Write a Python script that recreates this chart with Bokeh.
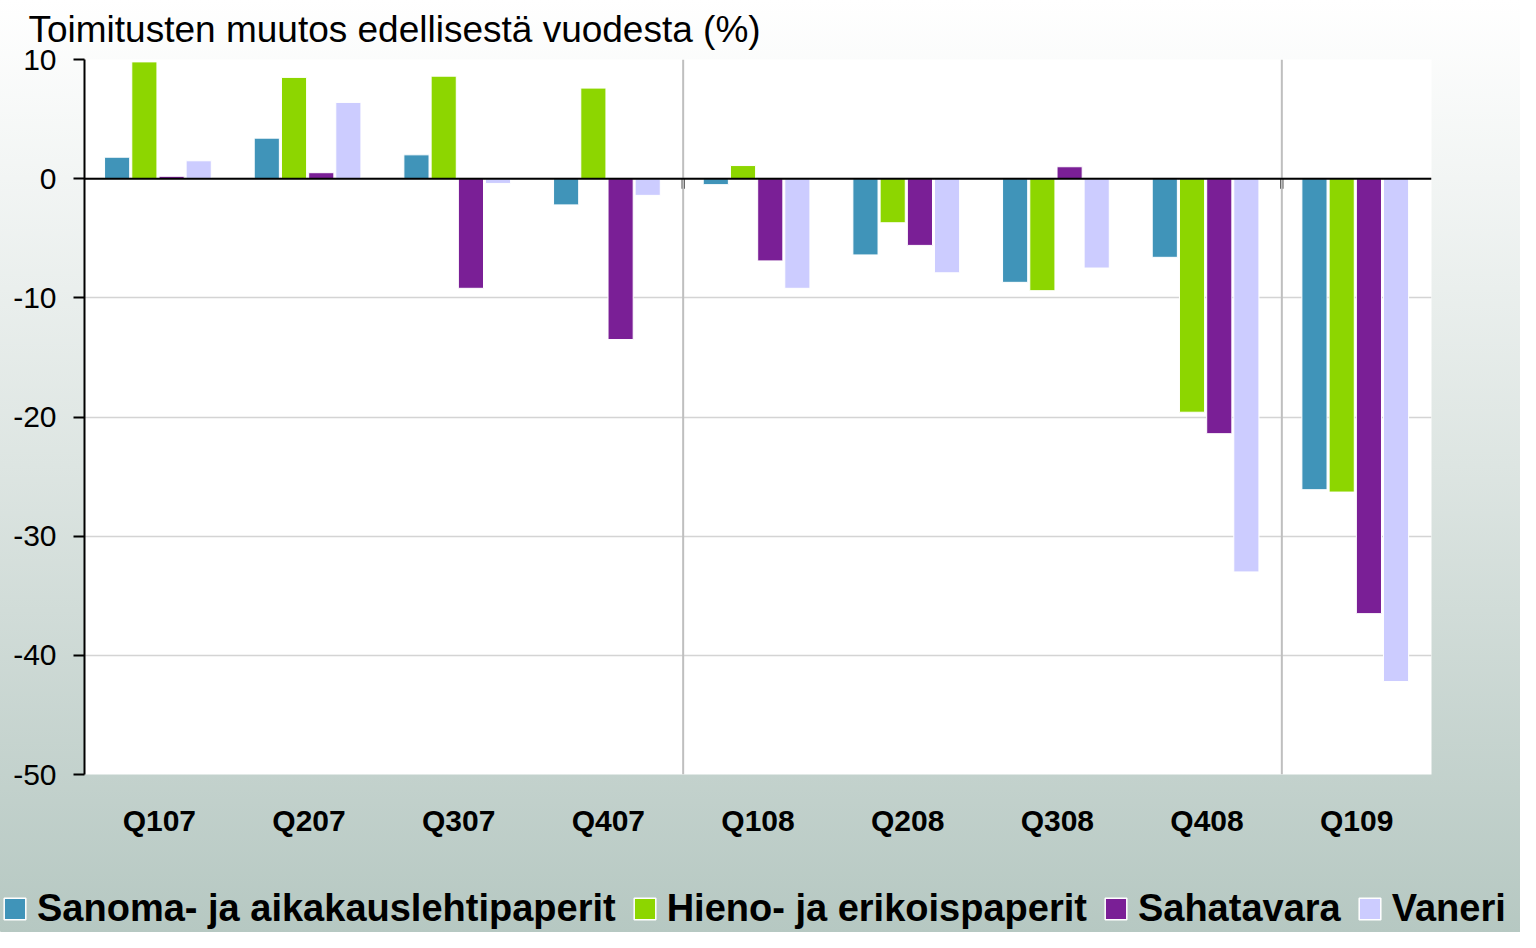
from bokeh.plotting import figure
from bokeh.layouts import column
from bokeh.models import (FactorRange, FixedTicker, Span, Legend, LegendItem,
                          InlineStyleSheet, ColumnDataSource, PrintfTickFormatter, Range1d)
from bokeh.transform import dodge
from bokeh.embed import file_html
from bokeh.resources import INLINE

quarters = ["Q107", "Q207", "Q307", "Q407", "Q108", "Q208", "Q308", "Q408", "Q109"]
sanoma = [1.8, 3.4, 2.0, -2.2, -0.5, -6.4, -8.7, -6.6, -26.1]
hieno = [9.8, 8.5, 8.6, 7.6, 1.1, -3.7, -9.4, -19.6, -26.3]
sahatavara = [0.2, 0.5, -9.2, -13.5, -6.9, -5.6, 1.0, -21.4, -36.5]
vaneri = [1.5, 6.4, -0.4, -1.4, -9.2, -7.9, -7.5, -33.0, -42.2]
series_names = ["Sanoma- ja aikakauslehtipaperit", "Hieno- ja erikoispaperit",
                "Sahatavara", "Vaneri"]
colors = ["#4094B9", "#8DD600", "#7A1F96", "#CCCCFF"]
y_ticks = [10, 0, -10, -20, -30, -40, -50]
year_breaks = [4, 8]

FONT = "Liberation Sans"
W, H_MAIN, H_LEG = 1520, 884, 48

source = ColumnDataSource(dict(q=quarters, s0=sanoma, s1=hieno, s2=sahatavara, s3=vaneri))

p = figure(x_range=FactorRange(*quarters), y_range=(-50, 10),
           width=W, height=H_MAIN, output_backend="svg", toolbar_location=None,
           min_border_left=84, min_border_right=89, min_border_top=59,
           min_border_bottom=110)
p.border_fill_color = None
p.background_fill_color = "white"
p.outline_line_color = None

p.title.text = "Toimitusten muutos edellisestä vuodesta (%)"
p.title.text_font = FONT
p.title.text_font_size = "37px"
p.title.text_font_style = "normal"
p.title.text_color = "black"
p.title.align = "left"
p.title.vertical_align = "top"
p.title.offset = -56
p.title.standoff = 15

offsets = [-0.282, -0.100, 0.082, 0.263]
renderers = []
for i, (off, c) in enumerate(zip(offsets, colors)):
    r = p.vbar(x=dodge("q", off, range=p.x_range), top=f"s{i}", bottom=0,
               width=0.168, source=source, fill_color=c, line_color="white",
               line_width=1)
    renderers.append(r)

# year separators
for b in year_breaks:
    p.add_layout(Span(location=b, dimension="height", line_color="#BFBFBF", line_width=2))
# zero line
p.add_layout(Span(location=0, dimension="width", line_color="black", line_width=2))
# small ticks at year breaks on zero line
p.segment(x0=year_breaks, x1=year_breaks, y0=[0, 0], y1=[-0.85, -0.85],
          line_color="black", line_width=3)

# axes
p.yaxis.ticker = FixedTicker(ticks=y_ticks)
p.yaxis.formatter = PrintfTickFormatter(format="%d")
p.yaxis.axis_line_color = "black"
p.yaxis.axis_line_width = 2
p.yaxis.major_tick_line_color = "black"
p.yaxis.major_tick_line_width = 2
p.yaxis.major_tick_out = 11
p.yaxis.major_tick_in = 0
p.yaxis.minor_tick_line_color = None
p.yaxis.major_label_text_font = FONT
p.yaxis.major_label_text_font_size = "30px"
p.yaxis.major_label_text_color = "black"
p.yaxis.major_label_standoff = 17

p.xaxis.axis_line_color = None
p.xaxis.major_tick_line_color = None
p.xaxis.minor_tick_line_color = None
p.xaxis.major_label_text_font = FONT
p.xaxis.major_label_text_font_size = "30px"
p.xaxis.major_label_text_font_style = "bold"
p.xaxis.major_label_text_color = "black"
p.xaxis.major_label_standoff = 23

p.xgrid.grid_line_color = None
p.ygrid.ticker = FixedTicker(ticks=y_ticks)
p.ygrid.grid_line_color = "#D4D4D4"
p.ygrid.grid_line_width = 1.5

# legend strip (separate small figure, same series colours)
lg = figure(width=W, height=H_LEG, output_backend="svg", toolbar_location=None,
            x_range=Range1d(0, 1), y_range=Range1d(0, 1),
            x_axis_type=None, y_axis_type=None,
            min_border_left=0, min_border_right=0, min_border_top=0, min_border_bottom=0)
if "frame_align" in lg.properties():
    lg.frame_align = False
lg.border_fill_color = None
lg.background_fill_color = None
lg.outline_line_color = None
lg.xgrid.visible = False
lg.ygrid.visible = False
# swatch renderers: placed outside the visible range, only their legend glyphs show
swatch = ColumnDataSource(dict(x=[-5.0], top=[-5.0]))
leg_renderers = [lg.vbar(x="x", top="top", bottom=-6.0, width=0.1, source=swatch,
                         fill_color=c, line_color="white", line_width=1.5) for c in colors]
legend = Legend(items=[LegendItem(label=n, renderers=[r]) for n, r in zip(series_names, leg_renderers)],
                orientation="horizontal", location=(1, 2))
legend.background_fill_alpha = 0
legend.border_line_color = None
legend.label_text_font = FONT
legend.label_text_font_size = "38px"
legend.label_text_font_style = "bold"
legend.label_text_color = "black"
legend.glyph_width = 27
legend.glyph_height = 27
legend.label_standoff = 9
legend.spacing = 15
legend.padding = 0
legend.margin = 0
lg.add_layout(legend, "center")

css = InlineStyleSheet(css=":host { background: linear-gradient(to bottom, #ffffff 0%, #dde5e2 50%, #b6c8c2 100%); }")
layout = column(p, lg, spacing=0, stylesheets=[css])

open("out.html", "w").write(file_html(layout, INLINE))
